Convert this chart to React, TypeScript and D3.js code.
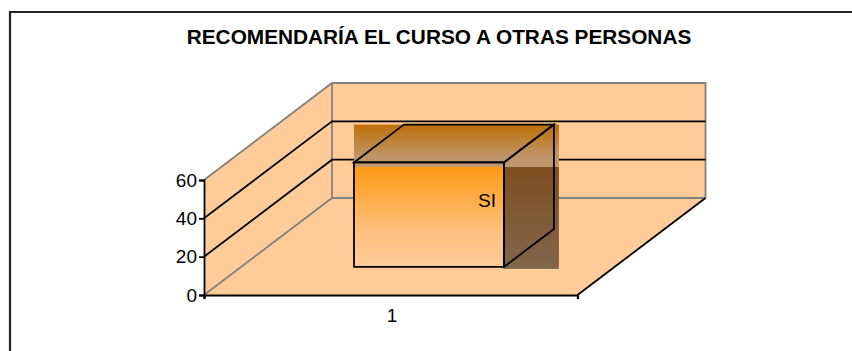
import React, { useEffect, useRef } from 'react';
import * as d3 from 'd3';

const categories = ['1'];
const seriesName = 'SI';
const seriesValues = [54.5];
const yTicks = [0, 20, 40, 60];
const title = 'RECOMENDARÍA EL CURSO A OTRAS PERSONAS';

const width = 852;
const height = 351;
const font = '"Liberation Sans", Arial, sans-serif';
const labelSize = 19;

// oblique 3D box: x along the front edge, z into the page
const front = { left: 204, right: 577.5, bottom: 295, top: 180 };
const depth = { dx: 128, dy: -97 };
const barZ = [0.29, 0.68];

const x = d3.scaleBand().domain(categories).range([front.left, front.right]).paddingInner(0).paddingOuter(0.745).align(0.505);
const y = d3.scaleLinear().domain([0, 60]).range([front.bottom, front.top]);

// project (px along x, value, z) to the screen
const project = (px: number, value: number, z: number): [number, number] => [
    px + depth.dx * z,
    y(value) + depth.dy * z,
];

const poly = d3.line();
const closed = (pts: [number, number][]) => poly(pts) + 'Z';

export default function App() {
    const axesRef = useRef<SVGGElement>(null);

    useEffect(() => {
        const g = d3.select(axesRef.current);
        g.selectAll('*').remove();
        const left = g.append('g')
            .attr('transform', `translate(${front.left},0)`)
            .call(d3.axisLeft(y).tickValues(yTicks).tickSize(5).tickPadding(2).tickFormat(d3.format('d')));
        const bottom = g.append('g')
            .attr('transform', `translate(0,${front.bottom})`)
            .call(d3.axisBottom(d3.scalePoint().domain(['a', 'b']).range([front.left, front.right])).tickSize(4).tickFormat(() => ''));
        left.selectAll('path').attr('stroke', '#000').attr('stroke-width', 1.8);
        left.selectAll('line').attr('stroke', '#000').attr('stroke-width', 1.8);
        bottom.selectAll('path').attr('stroke', '#000').attr('stroke-width', 2.2);
        bottom.selectAll('line').attr('stroke', '#000').attr('stroke-width', 1.8);
        left.selectAll('text').attr('font-family', font).attr('font-size', labelSize).attr('fill', '#000');
    }, []);

    const grey = '#808080';
    const peach = '#FFCC99';
    const lineW = 1.8;

    const floor = closed([project(front.left, 0, 0), project(front.right, 0, 0), project(front.right, 0, 1), project(front.left, 0, 1)]);
    const wallLeft = closed([project(front.left, 0, 0), project(front.left, 60, 0), project(front.left, 60, 1), project(front.left, 0, 1)]);
    const wallBack = closed([project(front.left, 0, 1), project(front.left, 60, 1), project(front.right, 60, 1), project(front.right, 0, 1)]);

    const bx0 = x(categories[0])!;
    const bx1 = bx0 + x.bandwidth();
    const val = seriesValues[0];
    const [z0, z1] = barZ;

    const fTL = project(bx0, val, z0);
    const fTR = project(bx1, val, z0);
    const fBL = project(bx0, 0, z0);
    const fBR = project(bx1, 0, z0);
    const bTL = project(bx0, val, z1);
    const bTR = project(bx1, val, z1);
    const bBR = project(bx1, 0, z1);

    // the gradient fills spill past the box edges, as in the exported picture
    const bleedX = 5;
    const seam = fTL[1] + 4.5;

    return (
        <svg width={width} height={height} style={{ position: 'absolute', left: 0, top: 0, background: '#fff' }}>
            <defs>
                <linearGradient id="faceFront" x1="0" y1="0" x2="0" y2="1">
                    <stop offset="0" stopColor="#FF9A14" />
                    <stop offset="0.65" stopColor="#FFC080" />
                    <stop offset="1" stopColor="#FFCC99" />
                </linearGradient>
                <linearGradient id="faceTop" x1="0" y1="0" x2="0" y2="1">
                    <stop offset="0" stopColor="#BF7008" />
                    <stop offset="0.75" stopColor="#BF9468" />
                    <stop offset="1" stopColor="#BF9970" />
                </linearGradient>
                <linearGradient id="faceSide" x1="0" y1="0" x2="0" y2="1">
                    <stop offset="0" stopColor="#7F4E20" />
                    <stop offset="1" stopColor="#80664C" />
                </linearGradient>
            </defs>

            <path d={`M10,${height}V12H${width}`} fill="none" stroke="#222" strokeWidth={2.2} />

            <text x={439} y={44} textAnchor="middle" fontFamily={font} fontWeight="bold" fontSize={20.8} fill="#000">{title}</text>

            <path d={wallLeft} fill={peach} stroke="none" />
            <path d={wallBack} fill={peach} stroke="none" />
            <path d={floor} fill={peach} stroke="none" />

            <path d={poly([project(front.left, 0, 0), project(front.left, 0, 1), project(front.right, 0, 1)])!} fill="none" stroke={grey} strokeWidth={lineW} />
            <path d={poly([project(front.left, 60, 0), project(front.left, 60, 1), project(front.right, 60, 1), project(front.right, 0, 1)])!} fill="none" stroke={grey} strokeWidth={lineW} />
            <path d={poly([project(front.left, 0, 1), project(front.left, 60, 1)])!} fill="none" stroke={grey} strokeWidth={lineW} />

            {yTicks.filter((t) => t > 0 && t < 60).map((t) => (
                <path key={t} d={poly([project(front.left, t, 0), project(front.left, t, 1), project(front.right, t, 1)])!} fill="none" stroke="#000" strokeWidth={lineW} />
            ))}
            <path d={poly([project(front.right, 0, 0), project(front.right, 0, 1)])!} fill="none" stroke="#000" strokeWidth={lineW} />

            <rect x={fTL[0]} y={bTL[1]} width={bTR[0] + bleedX - fTL[0]} height={seam - bTL[1]} fill="url(#faceTop)" />
            <rect x={fBR[0]} y={seam} width={bTR[0] + bleedX - fBR[0]} height={fBR[1] + 2 - seam} fill="url(#faceSide)" />
            <rect x={fTL[0]} y={seam} width={fTR[0] - fTL[0]} height={fBL[1] - seam} fill="url(#faceFront)" />

            <path d={closed([fTL, fTR, fBR, fBL])} fill="none" stroke="#000" strokeWidth={lineW} />
            <path d={closed([fTL, bTL, bTR, fTR])} fill="none" stroke="#000" strokeWidth={lineW} />
            <path d={closed([fTR, bTR, bBR, fBR])} fill="none" stroke="#000" strokeWidth={lineW} />

            <text x={fTR[0] - 8} y={207} textAnchor="end" fontFamily={font} fontSize={labelSize} fill="#000">{seriesName}</text>

            <g ref={axesRef} />

            <text x={392} y={322} textAnchor="middle" fontFamily={font} fontSize={labelSize} fill="#000">{categories[0]}</text>
        </svg>
    );
}
